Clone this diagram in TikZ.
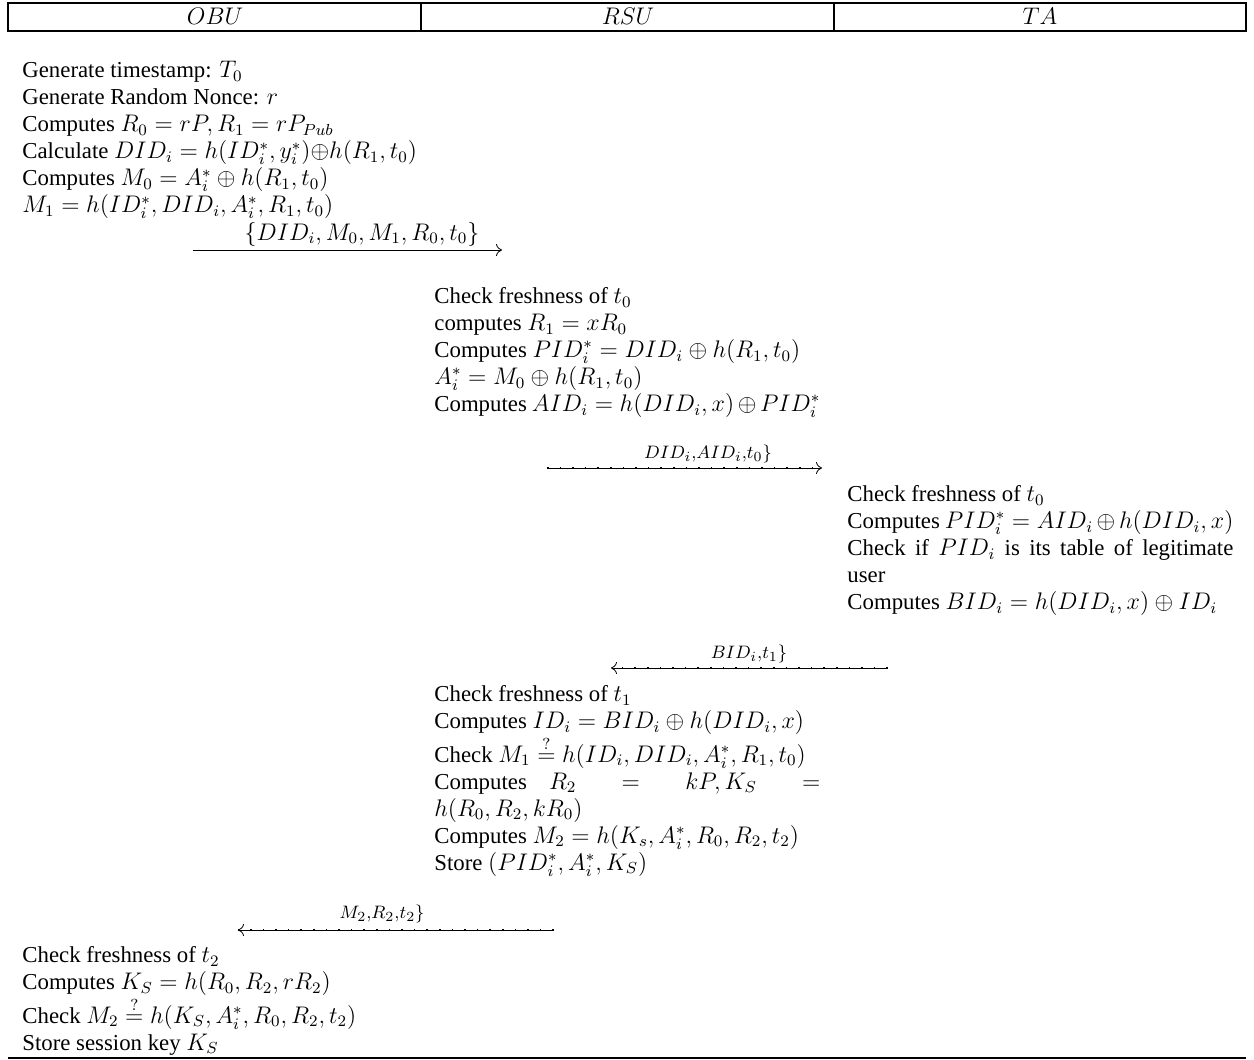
\documentclass[tikz,border=0pt]{standalone}
\usepackage[no-math]{fontspec}
\setmainfont{Liberation Serif}
\DeclareMathSizes{11.4}{12}{8.4}{6.5}
\usetikzlibrary{arrows.meta}
\begin{document}
\begin{tikzpicture}[x=0.5pt,y=-0.5pt,
  blk/.style={anchor=north west,inner sep=0pt,text width=193pt,align=justify,font=\fontsize{11.4}{13.5}\selectfont},
  lblk/.style={anchor=north west,inner sep=0pt,align=left,font=\fontsize{11.4}{13.5}\selectfont},
  hdr/.style={inner sep=0pt,font=\fontsize{11.4}{13.5}\selectfont},
  lbl/.style={inner sep=0pt,font=\fontsize{9.3}{10}\selectfont},
  big/.style={inner sep=0pt,font=\fontsize{11.4}{13.5}\selectfont},
  msg/.style={-{To[length=3pt,width=6pt]},line width=0.4pt},
  dmsg/.style={-{To[length=3pt,width=6pt]},line width=0.4pt,postaction={draw,-,line width=0.9pt,dash pattern=on 0.8pt off 5.5pt}},
  frame/.style={line width=0.6pt}]
\useasboundingbox (0,0) rectangle (1254,1060);
% header
\draw[frame] (8,3) rectangle (1246,31);
\draw[frame] (421,3) -- (421,31);
\draw[frame] (834,3) -- (834,31);
\node[hdr] (hobu) at (215,16) {$OBU$};
\node[hdr] (hrsu) at (628,16) {$RSU$};
\node[hdr] (hta) at (1040,16) {$TA$};
% OBU block 1
\node[lblk] (ob1) at (22,61) {Generate timestamp: $T_0$\\
Generate Random Nonce: $r$\\
Computes $R_0=rP,R_1=rP_{Pub}$\\
Calculate $DID_i=h(ID_i^*,y_i^*){\oplus}h(R_1,t_0)$\\
Computes $M_0=A_i^*\oplus h(R_1,t_0)$\\
$M_1=h(ID_i^*,DID_i,A_i^*,R_1,t_0)$};
\node[big] (l1) at (362,234) {$\{DID_i,M_0,M_1,R_0,t_0\}$};
\coordinate (a1s) at (193,250);
\coordinate (a1e) at (502,250);
\draw[msg] (a1s) -- (a1e);
% RSU block 1
\node[blk] (rs1) at (434,287) {Check freshness of $t_0$\\
computes $R_1=xR_0$\\
Computes $PID_i^*=DID_i\oplus h(R_1,t_0)$\\
$A_i^*=M_0\oplus h(R_1,t_0)$\\
Computes $AID_i=h(DID_i,x)\oplus PID_i^*$};
\node[lbl] (l2) at (708,454) {$DID_i{,}AID_i{,}t_0\}$};
\coordinate (a2s) at (547,468);
\coordinate (a2e) at (822,468);
\draw[dmsg] (a2s) -- (a2e);
% TA block
\node[blk] (ta1) at (847,485) {Check freshness of $t_0$\\
Computes $PID_i^*=AID_i\oplus h(DID_i,x)$\\
Check if $PID_i$ is its table of legitimate\linebreak user\\
Computes $BID_i=h(DID_i,x)\oplus ID_i$};
\node[lbl] (l3) at (749,654) {$BID_i{,}t_1\}$};
\coordinate (a3s) at (888,668);
\coordinate (a3e) at (611,668);
\draw[dmsg] (a3s) -- (a3e);
% RSU block 2
\node[blk] (rs2) at (434,685) {Check freshness of $t_1$\\
Computes $ID_i=BID_i\oplus h(DID_i,x)$\\
Check $M_1\stackrel{?}{=}h(ID_i,DID_i,A_i^*,R_1,t_0)$\\
Computes $R_2=kP,K_S=$\linebreak $h(R_0,R_2,kR_0)$\\
Computes $M_2=h(K_s,A_i^*,R_0,R_2,t_2)$\\
Store $(PID_i^*,A_i^*,K_S)$};
\node[lbl] (l4) at (382,914) {$M_2{,}R_2{,}t_2\}$};
\coordinate (a4s) at (554,930);
\coordinate (a4e) at (238,930);
\draw[dmsg] (a4s) -- (a4e);
% OBU block 2
\node[lblk] (ob2) at (22,946) {Check freshness of $t_2$\\
Computes $K_S=h(R_0,R_2,rR_2)$\\
Check $M_2\stackrel{?}{=}h(K_S,A_i^*,R_0,R_2,t_2)$\\
Store session key $K_S$};
\draw[frame] (8,1058) -- (1246,1058);
\end{tikzpicture}
\end{document}
